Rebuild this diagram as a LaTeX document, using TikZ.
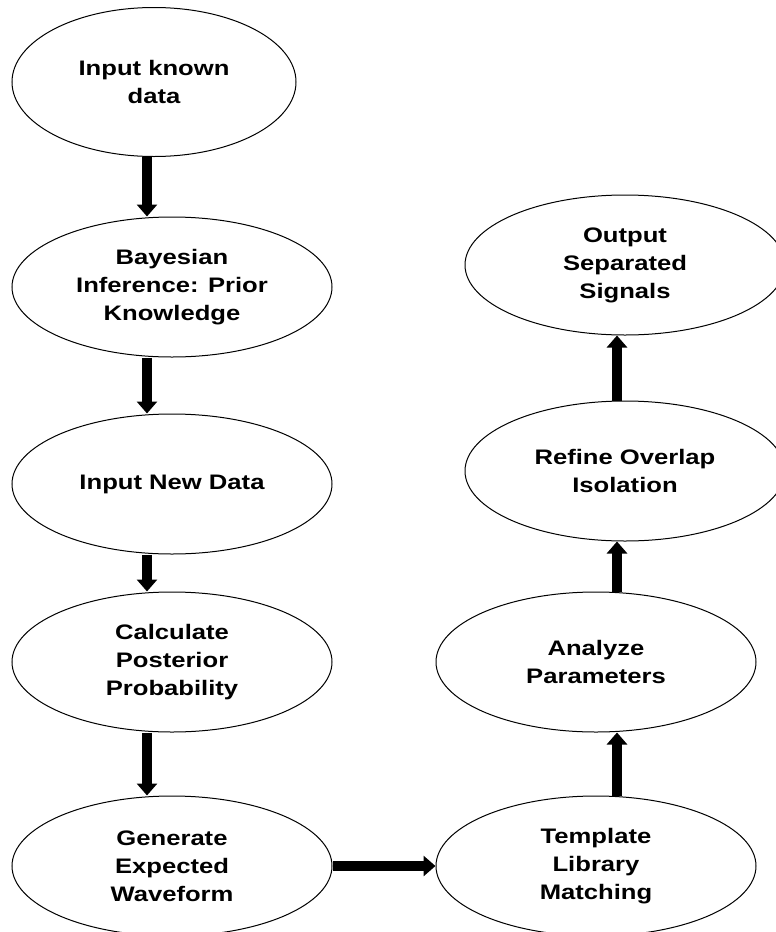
\documentclass[tikz,border=0pt]{standalone}
\usepackage{fontspec}
\setmainfont{Liberation Sans}[FakeStretch=1.22]
\usetikzlibrary{shapes.geometric,arrows.meta}
\begin{document}
\begin{tikzpicture}[x=0.5pt,y=-0.5pt,
    stage/.style={draw, ellipse, line width=0.5pt, minimum width=160pt, minimum height=70pt,
      inner sep=0pt, align=center, font=\fontsize{10.5pt}{14pt}\selectfont\bfseries},
    fat/.style={line width=5pt, -{Triangle[width=10pt,length=6pt]}}]
        \clip (0,0) rectangle (776,932);
        \node[stage, minimum width=142pt, minimum height=74.5pt] (known) at (154,82) {Input known\\data};
        \node[stage] (prior) at (172,287) {Bayesian\\Inference: Prior\\Knowledge};
        \node[stage] (newdata) at (172,484) {Input New Data};
        \node[stage] (posterior) at (172,662) {Calculate\\Posterior\\Probability};
        \node[stage] (waveform) at (172,866) {Generate\\Expected\\Waveform};
        \node[stage] (template) at (596,866) {Template\\Library\\Matching};
        \node[stage] (params) at (596,662) {Analyze\\Parameters};
        \node[stage] (refine) at (625,471) {Refine Overlap\\Isolation};
        \node[stage] (output) at (625,265) {Output\\Separated\\Signals};
        \draw[fat] ([xshift=-3.5pt]known.south) -- ([xshift=-12.5pt]prior.north);
        \draw[fat] ([xshift=-12.5pt]prior.south) -- ([xshift=-12.5pt]newdata.north);
        \draw[fat] ([xshift=-12.5pt]newdata.south) -- ([xshift=-12.5pt]posterior.north);
        \draw[fat] ([xshift=-12.5pt]posterior.south) -- ([xshift=-12.5pt]waveform.north);
        \draw[fat] (waveform.east) -- (template.west);
        \draw[fat] ([xshift=10.5pt]template.north) -- ([xshift=10.5pt]params.south);
        \draw[fat] ([xshift=10.5pt]params.north) -- ([xshift=-4pt]refine.south);
        \draw[fat] ([xshift=-4pt]refine.north) -- ([xshift=-4pt]output.south);
      \end{tikzpicture}
\end{document}
